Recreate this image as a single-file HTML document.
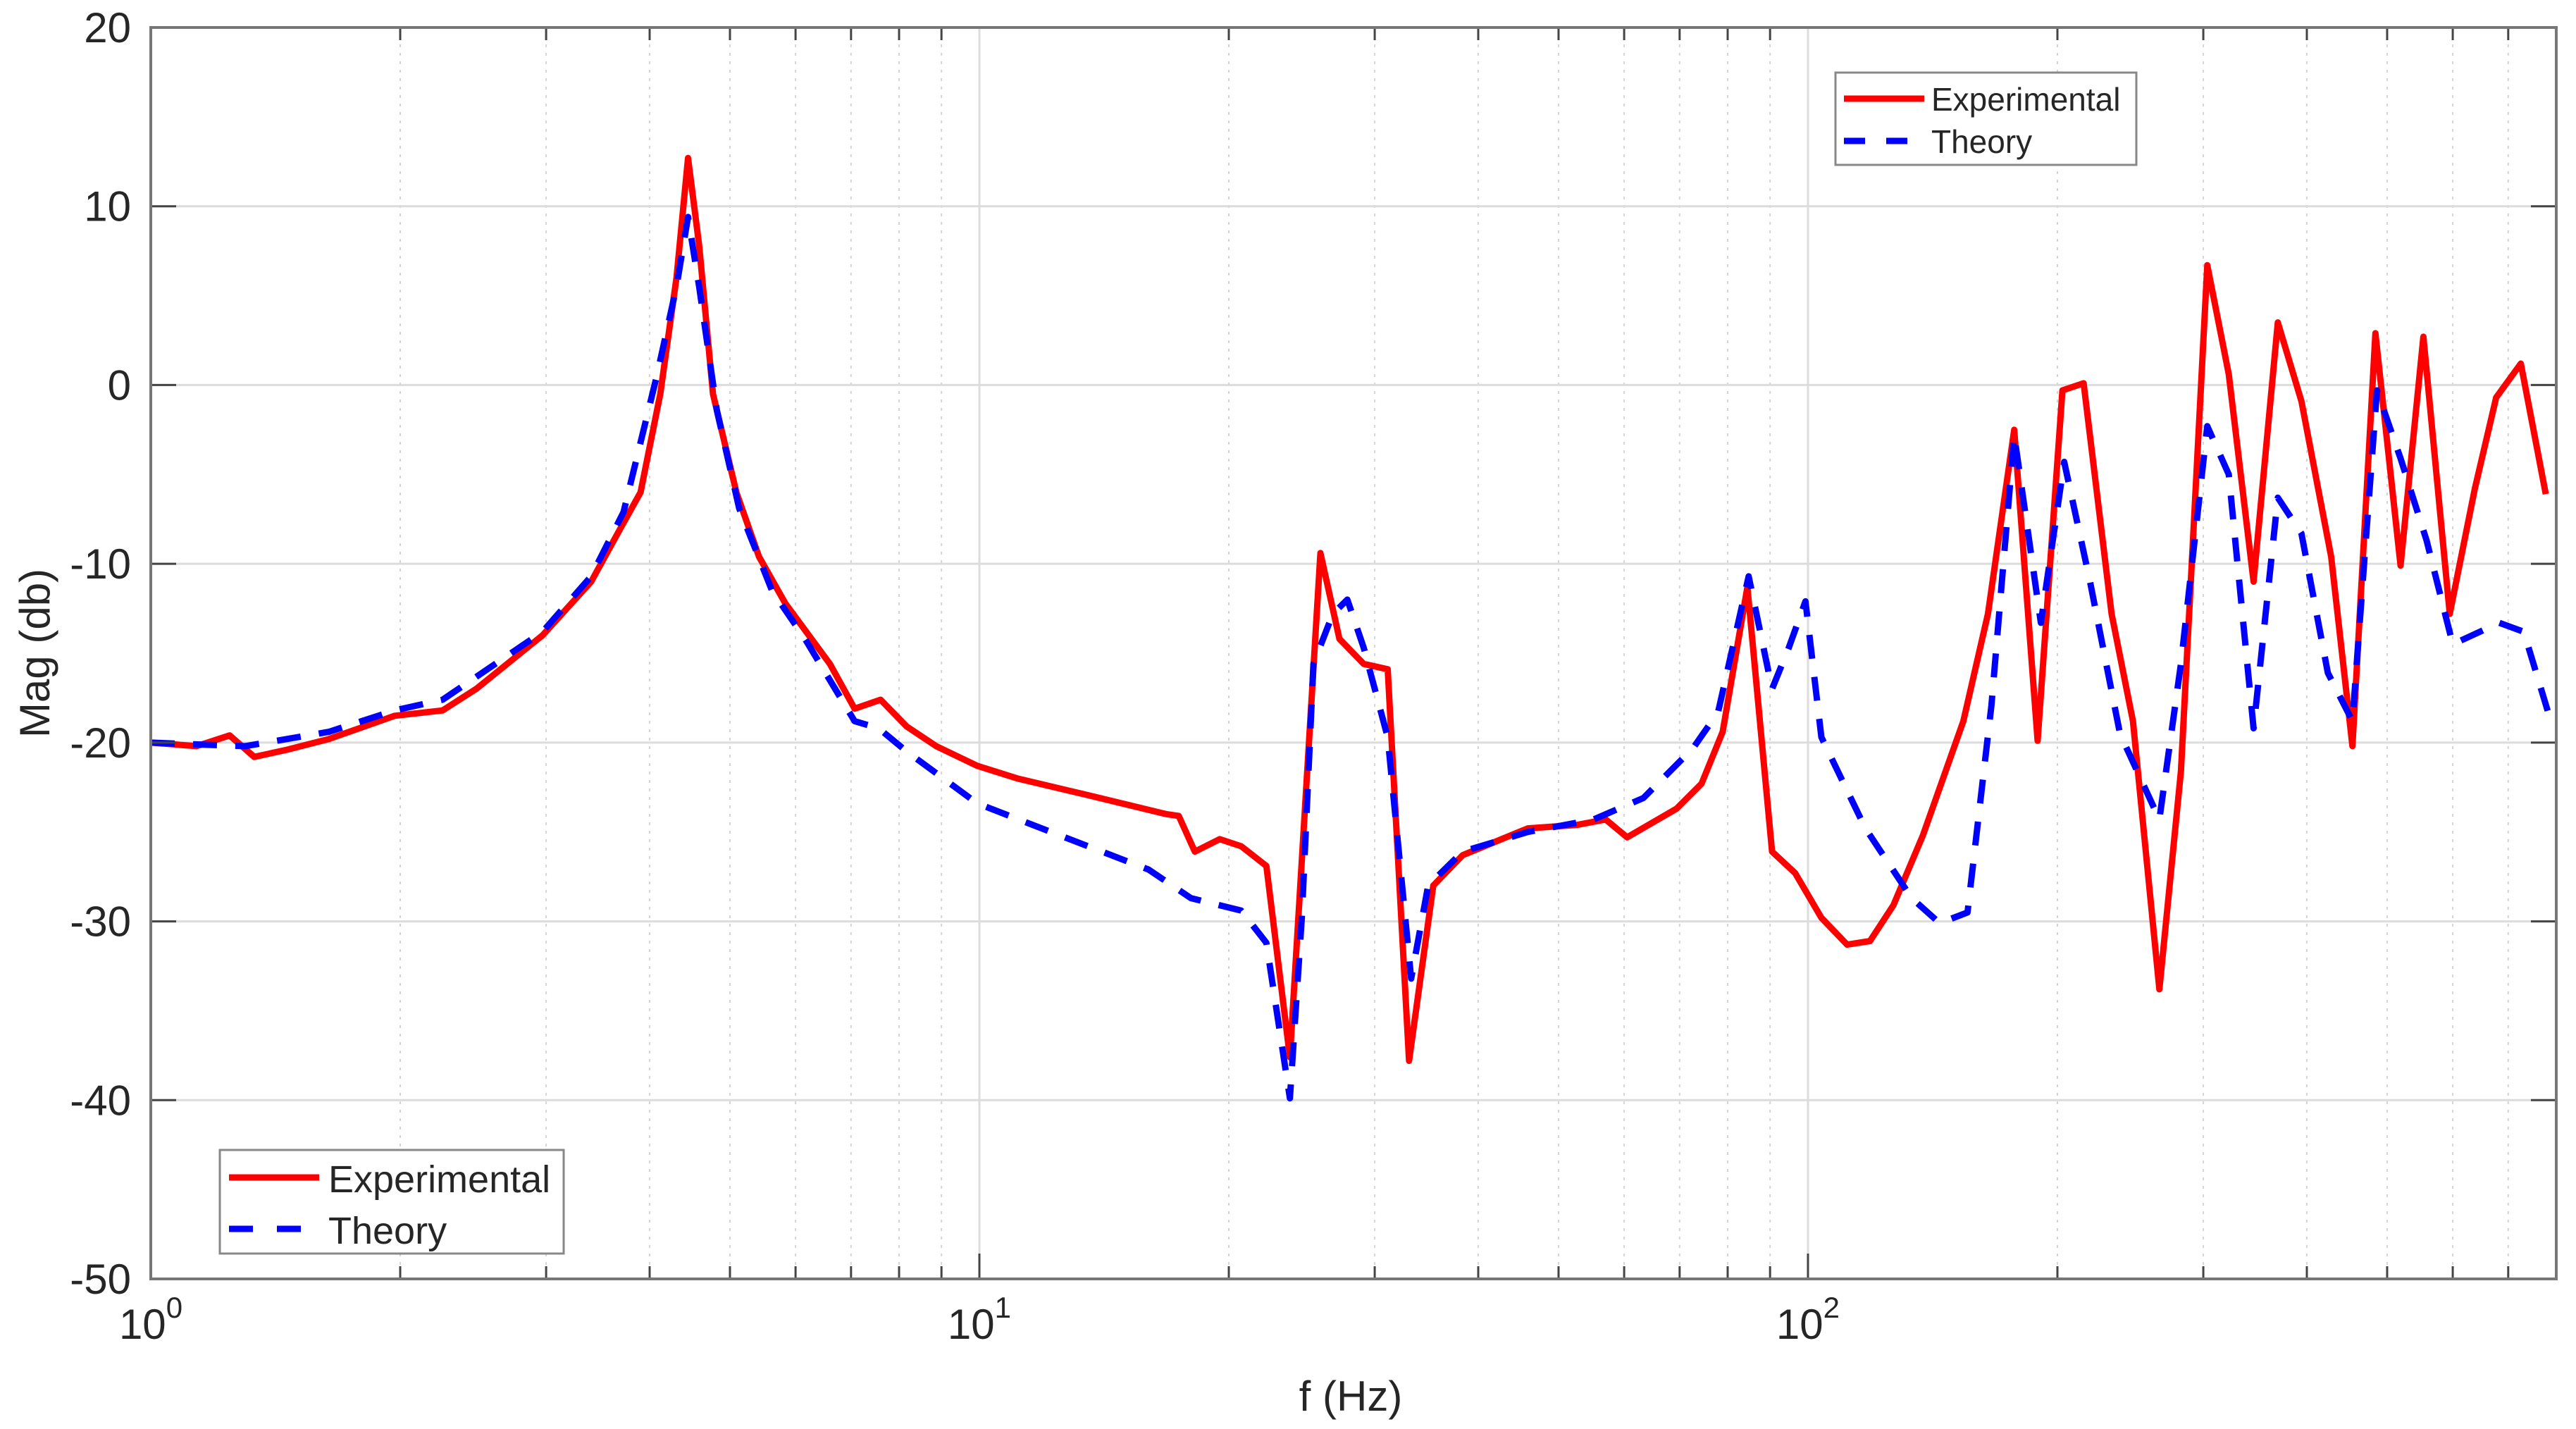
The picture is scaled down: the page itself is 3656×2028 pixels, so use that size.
<!DOCTYPE html>
<html><head><meta charset="utf-8"><style>
html,body{margin:0;padding:0;background:#fff;}
svg{display:block;font-family:"Liberation Sans",sans-serif;}
</style></head><body>
<svg id="chart" width="3656" height="2028" viewBox="0 0 3656 2028" xmlns="http://www.w3.org/2000/svg">
<rect x="0" y="0" width="3656" height="2028" fill="#fff"/>
<g id="grid"></g>
<g id="series"></g>
<g id="axes"></g>
<text x="1917" y="2002" font-size="60" text-anchor="middle" fill="#262626">f (Hz)</text>
<text transform="translate(70,927) rotate(-90)" font-size="60" text-anchor="middle" fill="#262626">Mag (db)</text>
<g>
<rect x="2605" y="103" width="427" height="131" fill="#fff" stroke="#888" stroke-width="3"/>
<line x1="2617" y1="140" x2="2731" y2="140" stroke="#ff0000" stroke-width="9"/>
<line x1="2617" y1="200" x2="2731" y2="200" stroke="#0000ff" stroke-width="9" stroke-dasharray="30,30"/>
<text x="2741" y="157" font-size="46" fill="#262626">Experimental</text>
<text x="2741" y="217" font-size="46" fill="#262626">Theory</text>
</g>
<g>
<rect x="312" y="1632" width="488" height="147" fill="#fff" stroke="#888" stroke-width="3"/>
<line x1="325" y1="1671" x2="453" y2="1671" stroke="#ff0000" stroke-width="9"/>
<line x1="325" y1="1744" x2="453" y2="1744" stroke="#0000ff" stroke-width="9" stroke-dasharray="34,34"/>
<text x="466" y="1692" font-size="54" fill="#262626">Experimental</text>
<text x="466" y="1765" font-size="54" fill="#262626">Theory</text>
</g>
</svg>
<script>
const expFreq=[1,1.136,1.245,1.333,1.46,1.64,1.97,2.25,2.47,2.97,3.40,3.69,3.90,4.12,4.31,4.45,4.59,4.77,5.09,5.42,5.83,6.60,7.07,7.6,8.17,8.87,9.94,11.1,13.4,16.8,17.4,18.2,19.5,20.7,22.2,23.7,25.8,27.2,29.1,31.1,33.0,35.3,38.3,45.9,52.7,57.0,60.5,69.4,74.4,78.9,84.5,90.5,96.5,103.8,111.5,118.8,126.8,137.6,154,164.9,177.4,189.3,202.8,215.1,232.5,246.7,265.5,281.9,303.3,322,345,369,394,428,454,484,519,553,595,638,677,725,777];
const expMag=[-20.0,-20.2,-19.6,-20.8,-20.4,-19.8,-18.5,-18.2,-17.0,-14.0,-11.0,-8.0,-6.0,-0.5,6.0,12.7,7.8,-0.5,-6.0,-9.6,-12.2,-15.6,-18.1,-17.6,-19.1,-20.2,-21.3,-22.0,-22.9,-24.0,-24.1,-26.1,-25.4,-25.8,-26.9,-37.6,-9.4,-14.2,-15.6,-15.9,-37.8,-28.0,-26.3,-24.8,-24.6,-24.3,-25.3,-23.7,-22.3,-19.4,-11.3,-26.1,-27.3,-29.8,-31.3,-31.1,-29.1,-25.2,-18.8,-12.8,-2.5,-19.9,-0.3,0.1,-12.8,-18.8,-33.8,-21.6,6.7,0.6,-11.0,3.5,-0.9,-9.6,-20.2,2.9,-10.1,2.7,-12.8,-5.8,-0.7,1.2,-6.1];
const thFreq=[1,1.136,1.30,1.64,1.97,2.25,2.97,3.40,3.72,4.08,4.31,4.45,4.59,4.82,5.13,5.62,6.16,7.07,7.56,8.17,9.94,12.2,16.0,18.0,20.7,22.2,23.7,24.5,25.3,26.7,27.8,29.1,31.1,33.2,34.8,38.3,45.9,55.1,63.3,72.7,77.9,84.8,90.5,94.8,99.3,103.8,117.3,133.4,144.2,155.8,166.5,177.4,191,203.8,219,238,265.5,281.9,303.3,322,345,369,394,424,454,486,519,558,600,683,731,782];
const thMag=[-20,-20.1,-20.2,-19.4,-18.2,-17.6,-13.8,-10.7,-7.1,0.5,5.5,9.4,5.5,-1.4,-6.9,-11.5,-14.2,-18.8,-19.2,-20.5,-23.4,-25.0,-27.1,-28.7,-29.4,-31.2,-39.9,-29.8,-15.6,-12.8,-12.0,-14.7,-19.7,-33.2,-28.0,-26.1,-25.0,-24.3,-23.1,-20.3,-18.3,-10.7,-17.0,-14.7,-12.1,-19.7,-24.8,-28.7,-30.1,-29.5,-17.9,-2.8,-13.3,-4.3,-11.0,-19.5,-24.3,-15.6,-2.3,-5.0,-19.2,-6.3,-8.3,-16.1,-18.8,-0.3,-4.1,-8.7,-14.5,-13.3,-13.8,-18.3];
const yTicks=[20,10,0,-10,-20,-30,-40,-50];
const xDecades=[1,10,100];
const xTickExp=["0","1","2"];

const L=214,R=3628,T=39,B=1815,XMIN=1,XMAX=800,YMIN=-50,YMAX=20;
const NS='http://www.w3.org/2000/svg';
function xs(f){return L+(Math.log10(f)-Math.log10(XMIN))/(Math.log10(XMAX)-Math.log10(XMIN))*(R-L);}
function ys(v){return B-(v-YMIN)/(YMAX-YMIN)*(B-T);}
function mk(tag,attrs,parent){const e=document.createElementNS(NS,tag);for(const k in attrs)e.setAttribute(k,attrs[k]);parent.appendChild(e);return e;}
const grid=document.getElementById('grid'),axes=document.getElementById('axes'),series=document.getElementById('series');
// minor vertical grid
for(const d of xDecades){for(let m=2;m<=9;m++){const f=d*m;if(f>XMAX)break;const x=xs(f);
 const g=mk('line',{x1:x,y1:T,x2:x,y2:B,stroke:'#d4d4d4','stroke-width':2,'stroke-dasharray':'4,8'},grid);
 
 const t1=mk('line',{x1:x,y1:B,x2:x,y2:B-18,stroke:'#444','stroke-width':3},axes);
 
 const t2=mk('line',{x1:x,y1:T,x2:x,y2:T+18,stroke:'#444','stroke-width':3},axes);
 }}
// major vertical
xDecades.forEach((d,i)=>{const x=xs(d);
 if(i>0){const g=mk('line',{x1:x,y1:T,x2:x,y2:B,stroke:'#dcdcdc','stroke-width':3},grid);
 }
 const tk=mk('line',{x1:x,y1:B,x2:x,y2:B-36,stroke:'#444','stroke-width':3},axes);
 
 const t=mk('text',{x:x,y:B+85,'font-size':60,'text-anchor':'middle',fill:'#262626'},axes);
 
 t.textContent='10';const s=mk('tspan',{dy:-30,'font-size':42},t);s.textContent=xTickExp[i];});
// horizontal grid
yTicks.forEach(v=>{const y=ys(v);
 if(v!==YMIN&&v!==YMAX){const g=mk('line',{x1:L,y1:y,x2:R,y2:y,stroke:'#dcdcdc','stroke-width':3},grid);
 }
 const tk=mk('line',{x1:L,y1:y,x2:L+36,y2:y,stroke:'#444','stroke-width':3},axes);
 
 const tk2=mk('line',{x1:R,y1:y,x2:R-36,y2:y,stroke:'#444','stroke-width':3},axes);
 
 const t=mk('text',{x:L-28,y:y+21,'font-size':60,'text-anchor':'end',fill:'#262626'},axes);
 
 t.textContent=String(v);});
const frame=mk('rect',{x:L,y:T,width:R-L,height:B-T,fill:'none',stroke:'#777','stroke-width':4},axes);

function path(fr,mg){return fr.map((f,i)=>(i?'L':'M')+xs(f).toFixed(1)+','+ys(mg[i]).toFixed(1)).join(' ');}
const pe=mk('path',{d:path(expFreq,expMag),fill:'none',stroke:'#ff0000','stroke-width':9,'stroke-linejoin':'round'},series);

const pt=mk('path',{d:path(thFreq,thMag),fill:'none',stroke:'#0000ff','stroke-width':9,'stroke-dasharray':'34,26','stroke-linejoin':'round'},series);

</script>
</body></html>
